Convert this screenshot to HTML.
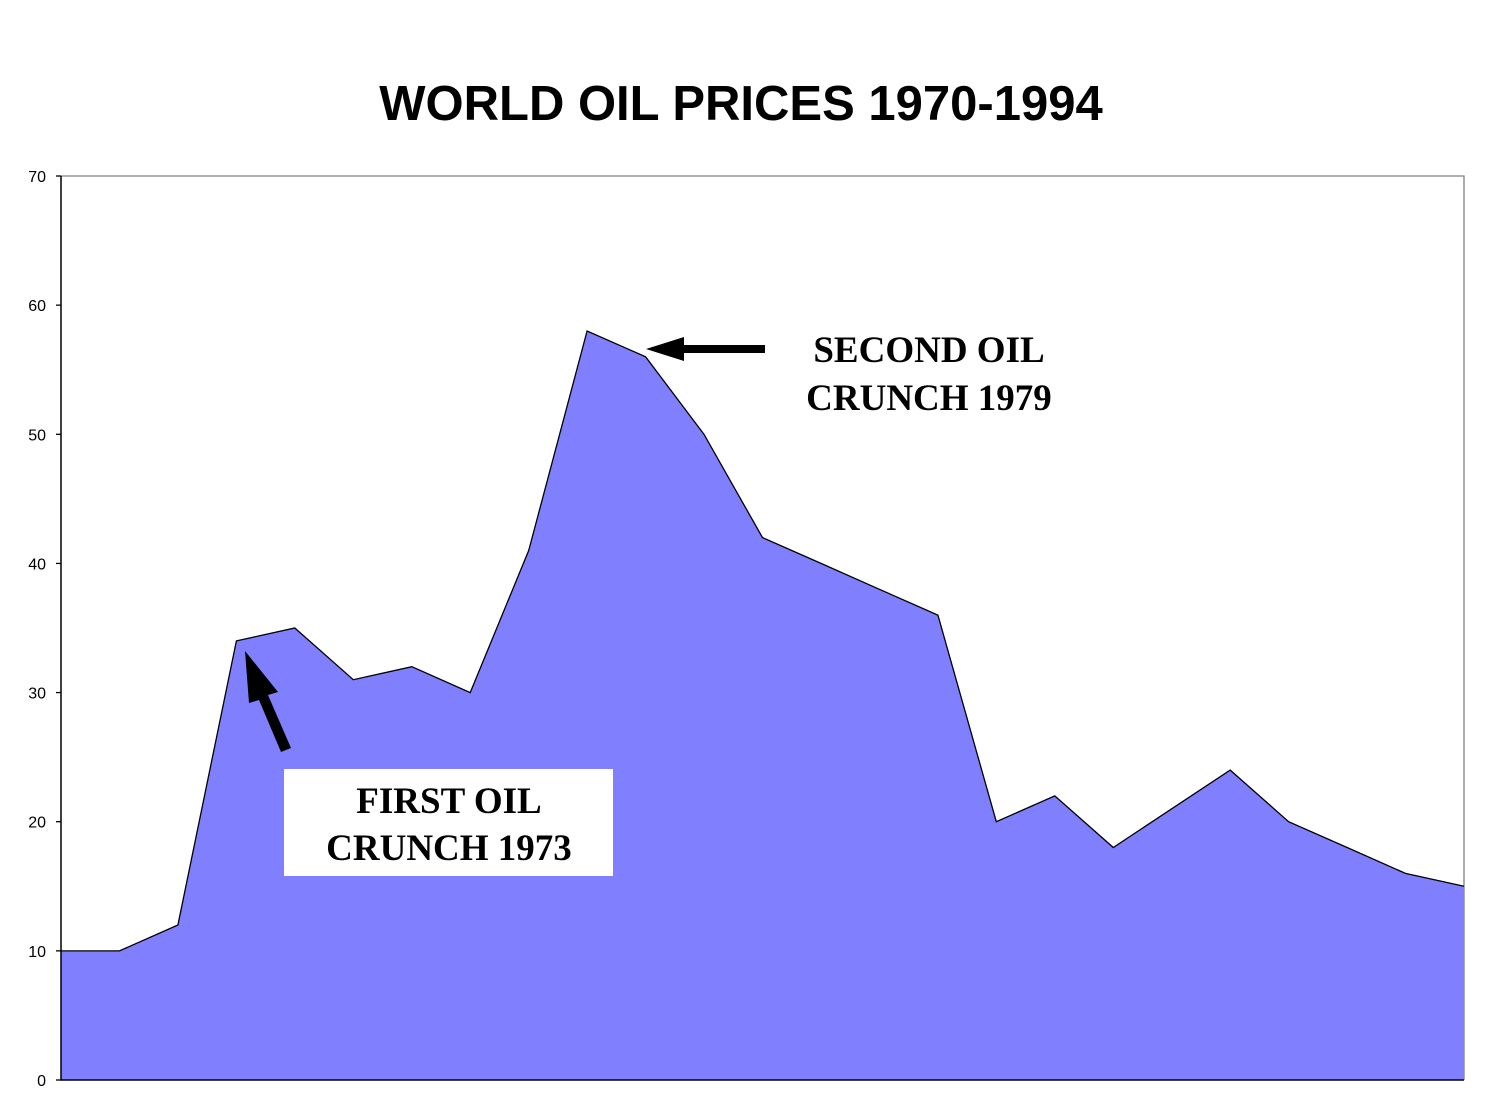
<!DOCTYPE html>
<html><head><meta charset="utf-8"><style>
html,body{margin:0;padding:0;background:#fff;}
svg{display:block;}
</style></head><body>
<svg id="chart" width="1486" height="1118" viewBox="0 0 1486 1118" xmlns="http://www.w3.org/2000/svg">
<rect width="1486" height="1118" fill="#fff"/>
<text x="741" y="120" text-anchor="middle" font-family="Liberation Sans, sans-serif" font-weight="bold" font-size="49">WORLD OIL PRICES 1970-1994</text>
<g id="plot"></g>
<g id="annotations">
<polygon points="646,349 684,337 684,345 765,345 765,353 684,353 684,361" fill="#000"/>
<text font-family="Liberation Serif, serif" font-weight="bold" font-size="37" text-anchor="middle"><tspan x="929" y="362">SECOND OIL</tspan><tspan x="929" y="410">CRUNCH 1979</tspan></text>
<polygon points="245,651 278,692 268,695 291,748 281,752 259,700 249,703" fill="#000"/>
<rect x="284" y="769" width="329" height="107" fill="#fff"/>
<text font-family="Liberation Serif, serif" font-weight="bold" font-size="37" text-anchor="middle"><tspan x="449" y="813">FIRST OIL</tspan><tspan x="449" y="860">CRUNCH 1973</tspan></text>
</g>
</svg>
<script>
const years = [1970,1971,1972,1973,1974,1975,1976,1977,1978,1979,1980,1981,1982,1983,1984,1985,1986,1987,1988,1989,1990,1991,1992,1993,1994];
const values = [10,10,12,34,35,31,32,30,41,58,56,50,42,40,38,36,20,22,18,21,24,20,18,16,15];
const yTicks = [0,10,20,30,40,50,60,70];

const X0=61, X1=1464, Y0=1080, Y1=176, YMAX=70;
function xs(i){return X0+(X1-X0)*i/(years.length-1);}
function ys(v){return Y0-(Y0-Y1)*v/YMAX;}
const NS="http://www.w3.org/2000/svg";
const plot=document.getElementById('plot');
function mk(tag,attrs){const e=document.createElementNS(NS,tag);for(const k in attrs)e.setAttribute(k,attrs[k]);return e;}

const border=mk('path',{d:`M${X0} ${Y1} H${X1} V${Y0}`,fill:'none',stroke:'#808080','stroke-width':1.3});


plot.appendChild(border);

let pts=values.map((v,i)=>`${xs(i).toFixed(1)},${ys(v).toFixed(1)}`);
const area=mk('polygon',{points:`${X0},${Y0} ${pts.join(' ')} ${X1},${Y0}`,fill:'#8080FF'});


plot.appendChild(area);
const line=mk('polyline',{points:pts.join(' '),fill:'none',stroke:'#000','stroke-width':1.3});


plot.appendChild(line);

const axes=mk('path',{d:`M${X0} ${Y1} V${Y0} H${X1}`,fill:'none',stroke:'#000','stroke-width':1.5});


plot.appendChild(axes);

yTicks.forEach(t=>{
  const tk=mk('line',{x1:X0-5,x2:X0,y1:ys(t),y2:ys(t),stroke:'#000','stroke-width':1.3});
  
  
  plot.appendChild(tk);
  const lb=mk('text',{x:46,y:ys(t)+6,'text-anchor':'end','font-family':'Liberation Sans, sans-serif','font-size':16});
  lb.textContent=t;
  
  
  plot.appendChild(lb);
});
</script>
</body></html>
